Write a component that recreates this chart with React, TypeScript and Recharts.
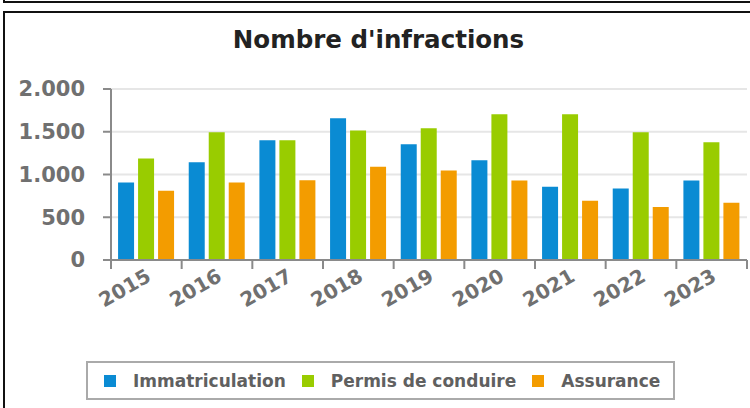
import React from "react";
import { BarChart, Bar, XAxis, YAxis, CartesianGrid } from "recharts";

const years = ["2015", "2016", "2017", "2018", "2019", "2020", "2021", "2022", "2023"];
const immatriculation = [905, 1144, 1401, 1659, 1355, 1167, 858, 835, 929];
const permis = [1186, 1495, 1401, 1514, 1542, 1706, 1706, 1495, 1378];
const assurance = [811, 905, 933, 1092, 1046, 929, 694, 620, 671];
const yTicks = [0, 500, 1000, 1500, 2000];

const seriesNames = ["Immatriculation", "Permis de conduire", "Assurance"];
const colors = ["#0a8bd3", "#99cc00", "#f39c00"];

const data = years.map((y, i) => ({
  year: y,
  immat: immatriculation[i],
  permis: permis[i],
  assur: assurance[i],
}));

const FONT = "'DejaVu Sans', Verdana, sans-serif";
const W = 750;
const H = 408;
const XH = 30;
const M = { top: 89, right: 3, bottom: 148 - XH, left: 0 };
const YW = 111;
const catW = (W - M.right - M.left - YW) / years.length;

const fmt = (v: number) => v.toString().replace(/\B(?=(\d{3})+(?!\d))/g, ".");

const XTick = (props: any) => {
  const { x, y, payload, index } = props;
  const left = x - catW / 2;
  const ax = x + 6;
  const ay = y + 20;
  return (
    <g>
      <line x1={left} y1={y} x2={left} y2={y + 9} stroke="#8a8a8a" strokeWidth={2} />
      {index === years.length - 1 && (
        <line x1={x + catW / 2} y1={y} x2={x + catW / 2} y2={y + 9} stroke="#8a8a8a" strokeWidth={2} />
      )}
      <text
        x={ax}
        y={ay}
        textAnchor="end"
        transform={`rotate(-30, ${ax}, ${ay})`}
        fontFamily={FONT}
        fontWeight="bold"
        fontSize={20}
        fill="#707070"
      >
        {payload.value}
      </text>
    </g>
  );
};

const LegendBox = () => (
  <div
    style={{
      position: "absolute",
      left: 86,
      top: 361,
      boxSizing: "border-box",
      width: 589,
      height: 39,
      border: "2px solid #aaaaaa",
      display: "flex",
      alignItems: "center",
      paddingLeft: 16,
      fontFamily: FONT,
      fontWeight: "bold",
      fontSize: 17,
      color: "#606060",
      whiteSpace: "nowrap",
    }}
  >
    {seriesNames.map((n, i) => (
      <div key={n} style={{ display: "flex", alignItems: "center", marginRight: i < 2 ? 16 : 0 }}>
        <span style={{ display: "inline-block", width: 12, height: 12, background: colors[i], marginRight: 17 }} />
        <span>{n}</span>
      </div>
    ))}
  </div>
);

export default function App() {
  return (
    <div style={{ position: "absolute", left: 0, top: 0, width: W, height: H, background: "#fff", overflow: "hidden" }}>
      <div style={{ position: "absolute", left: 3, top: -20, width: 770, height: 23, borderLeft: "2px solid #111", borderBottom: "2px solid #111", boxSizing: "border-box" }} />
      <div style={{ position: "absolute", left: 3, top: 11, width: 770, height: 440, borderLeft: "2px solid #111", borderTop: "2px solid #111", boxSizing: "border-box" }} />
      <div
        style={{
          position: "absolute",
          left: 0,
          top: 25,
          width: 757,
          textAlign: "center",
          fontFamily: FONT,
          fontWeight: "bold",
          fontSize: 24.5,
          color: "#222",
        }}
      >
        Nombre d'infractions
      </div>
      <div style={{ position: "absolute", left: 0, top: 0 }}>
        <BarChart width={W} height={H} data={data} margin={M} barCategoryGap="10%" barGap={4}>
          <CartesianGrid vertical={false} stroke="#e6e6e6" strokeWidth={2} />
          <XAxis
            dataKey="year"
            height={XH}
            tickLine={false}
            tickSize={0}
            tickMargin={0}
            axisLine={{ stroke: "#8a8a8a", strokeWidth: 2 }}
            tick={<XTick />}
            interval={0}
          />
          <YAxis
            width={YW}
            domain={[0, 2000]}
            ticks={yTicks}
            interval={0}
            tickFormatter={fmt}
            tickSize={8}
            tickMargin={18}
            axisLine={{ stroke: "#8a8a8a", strokeWidth: 2 }}
            tickLine={{ stroke: "#8a8a8a", strokeWidth: 2 }}
            tick={{ fontFamily: FONT, fontWeight: "bold", fontSize: 21, fill: "#707070" }}
          />
          <Bar dataKey="immat" name={seriesNames[0]} fill={colors[0]} isAnimationActive={false} />
          <Bar dataKey="permis" name={seriesNames[1]} fill={colors[1]} isAnimationActive={false} />
          <Bar dataKey="assur" name={seriesNames[2]} fill={colors[2]} isAnimationActive={false} />
        </BarChart>
      </div>
      <LegendBox />
    </div>
  );
}
